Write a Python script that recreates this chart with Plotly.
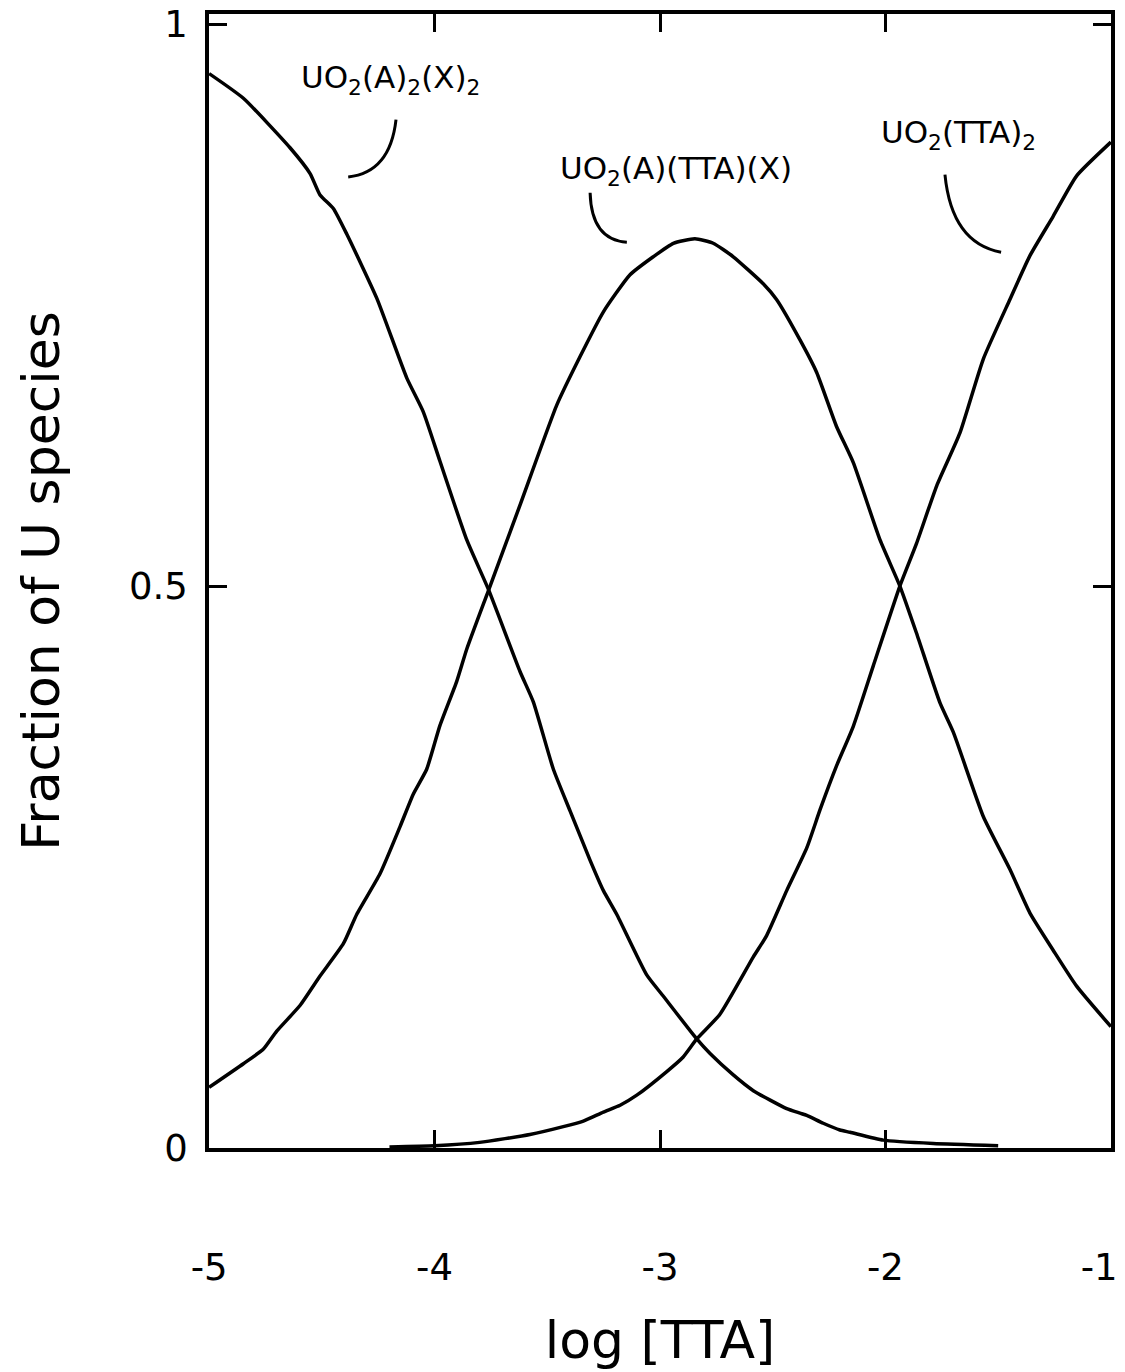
import plotly.graph_objects as go

# log [TTA] positions and fractions of each uranyl species
x_a2x2 = [-5.0, -4.848, -4.641, -4.552, -4.508, -4.449, -4.389, -4.256, -4.123, -4.050,
          -3.976, -3.857, -3.761, -3.621, -3.562, -3.473, -3.399, -3.310, -3.251, -3.192,
          -3.059, -2.985, -2.837, -2.778, -2.675, -2.586, -2.438, -2.379, -2.349, -2.276,
          -2.202, -2.157, -2.010, -1.788, -1.5]
y_a2x2 = [0.956, 0.934, 0.890, 0.867, 0.848, 0.836, 0.813, 0.756, 0.685, 0.655,
          0.611, 0.541, 0.497, 0.424, 0.397, 0.337, 0.300, 0.256, 0.229, 0.208,
          0.154, 0.135, 0.097, 0.084, 0.065, 0.051, 0.035, 0.031, 0.029, 0.022,
          0.016, 0.014, 0.007, 0.004, 0.002]

x_mixed = [-5.0, -4.848, -4.759, -4.700, -4.596, -4.508, -4.404, -4.345, -4.242, -4.153,
           -4.094, -4.035, -3.976, -3.902, -3.857, -3.761, -3.621, -3.458, -3.355, -3.251,
           -3.133, -3.030, -2.941, -2.845, -2.764, -2.675, -2.542, -2.483, -2.379, -2.305,
           -2.217, -2.143, -2.024, -1.936, -1.862, -1.758, -1.699, -1.566, -1.448, -1.359,
           -1.256, -1.152, -1.0]
y_mixed = [0.054, 0.075, 0.088, 0.104, 0.127, 0.153, 0.182, 0.208, 0.244, 0.286,
           0.315, 0.337, 0.376, 0.415, 0.444, 0.496, 0.572, 0.661, 0.704, 0.744,
           0.777, 0.793, 0.805, 0.809, 0.805, 0.793, 0.769, 0.755, 0.719, 0.690,
           0.642, 0.610, 0.541, 0.500, 0.458, 0.396, 0.370, 0.295, 0.248, 0.209,
           0.176, 0.144, 0.108]

x_tta2 = [-4.2, -4.0, -3.8, -3.577, -3.429, -3.340, -3.251, -3.177, -3.103, -2.970,
          -2.897, -2.837, -2.734, -2.586, -2.527, -2.438, -2.349, -2.290, -2.217, -2.143,
          -2.054, -1.936, -1.862, -1.773, -1.670, -1.566, -1.448, -1.359, -1.256, -1.152,
          -1.0]
y_tta2 = [0.001, 0.002, 0.005, 0.012, 0.019, 0.024, 0.032, 0.038, 0.047, 0.068,
          0.081, 0.097, 0.119, 0.170, 0.189, 0.229, 0.267, 0.301, 0.340, 0.375,
          0.429, 0.500, 0.538, 0.589, 0.636, 0.702, 0.755, 0.794, 0.829, 0.865,
          0.895]

x_ticks = [-5, -4, -3, -2, -1]
# the last label is nudged inward so it stays on the page
x_tick_text = ["-5", "-4", "-3", "-2", "-1\u00a0\u00a0"]
y_ticks = [0, 0.5, 1]
y_tick_text = ["0", "0.5", "1"]

species_labels = ["UO<sub>2</sub>(A)<sub>2</sub>(X)<sub>2</sub>",
                  "UO<sub>2</sub>(A)(TTA)(X)",
                  "UO<sub>2</sub>(TTA)<sub>2</sub>"]

FONT = "DejaVu Sans"
INK = "black"

fig = go.Figure()
for xs, ys in [(x_a2x2, y_a2x2), (x_mixed, y_mixed), (x_tta2, y_tta2)]:
    fig.add_trace(go.Scatter(x=xs, y=ys, mode="lines",
                             line=dict(color=INK, width=3.5, shape="spline", smoothing=0.5),
                             showlegend=False, hoverinfo="skip"))

# species labels with curved leader strokes
label_pos = [(-4.197, 0.951), (-2.929, 0.870), (-1.678, 0.902)]
for text, (lx, ly) in zip(species_labels, label_pos):
    fig.add_annotation(x=lx, y=ly, text=text, showarrow=False,
                       font=dict(family=FONT, size=31, color=INK))

leaders = [
    "M -4.171,0.915 Q -4.197,0.868 -4.383,0.864",
    "M -3.310,0.850 Q -3.304,0.808 -3.147,0.806",
    "M -1.736,0.866 Q -1.706,0.805 -1.487,0.797",
]
for p in leaders:
    fig.add_shape(type="path", path=p, xref="x", yref="y",
                  line=dict(color=INK, width=3))

fig.update_xaxes(range=[-5.0005, -0.9995], tickvals=x_ticks, ticktext=x_tick_text,
                 showline=True, linecolor=INK, linewidth=3.5, mirror="allticks",
                 ticks="inside", ticklen=18, tickwidth=3, tickcolor=INK,
                 showgrid=False, zeroline=False, automargin=False,
                 tickfont=dict(family=FONT, size=37, color=INK),
                 ticklabelstandoff=84, ticklabeloverflow="allow",
                 title=dict(text="log [TTA]", font=dict(family=FONT, size=52, color=INK),
                            standoff=34))
fig.update_yaxes(range=[0, 1.009], tickvals=y_ticks, ticktext=y_tick_text,
                 showline=True, linecolor=INK, linewidth=3.5, mirror="allticks",
                 ticks="inside", ticklen=18, tickwidth=3, tickcolor=INK,
                 showgrid=False, zeroline=False, automargin=False,
                 tickfont=dict(family=FONT, size=37, color=INK),
                 ticklabelstandoff=10, ticklabeloverflow="allow",
                 title=dict(text="Fraction of U species",
                            font=dict(family=FONT, size=52, color=INK), standoff=54))

fig.update_layout(width=1125, height=1372,
                  margin=dict(l=209, r=14, t=14, b=224, autoexpand=False),
                  plot_bgcolor="white", paper_bgcolor="white")

fig.write_html("out.html")
